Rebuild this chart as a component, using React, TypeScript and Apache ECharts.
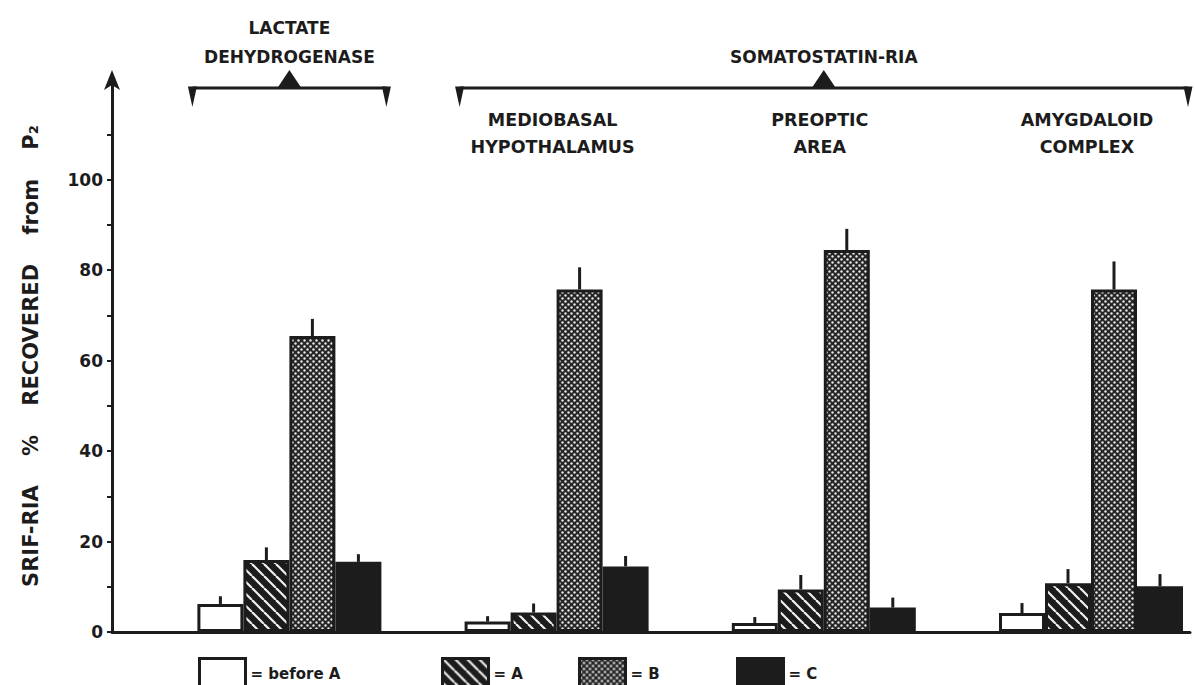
import React, { useEffect, useRef } from "react";
import * as echarts from "echarts";

// ---------- data ----------
const categories = [
  "Lactate dehydrogenase",
  "Mediobasal hypothalamus",
  "Preoptic area",
  "Amygdaloid complex",
];
const regionLabels = ["", "MEDIOBASAL\nHYPOTHALAMUS", "PREOPTIC\nAREA", "AMYGDALOID\nCOMPLEX"];
const bracketTitles = ["LACTATE\nDEHYDROGENASE", "SOMATOSTATIN-RIA"];
const bracketFrom = [0, 1];
const bracketTo = [0, 3];

const seriesNames = ["before A", "A", "B", "C"];
const beforeA = [6.2, 2.3, 2.0, 4.2];
const beforeAErr = [1.7, 1.2, 1.3, 2.2];
const valuesA = [15.9, 4.3, 9.4, 10.8];
const valuesAErr = [2.8, 2.0, 3.2, 3.1];
const valuesB = [65.4, 75.7, 84.4, 75.7];
const valuesBErr = [3.8, 4.9, 4.7, 6.2];
const valuesC = [15.5, 14.5, 5.4, 10.1];
const valuesCErr = [1.7, 2.3, 2.2, 2.7];

const yTickValues = [0, 10, 20, 30, 40, 50, 60, 70, 80, 90, 100, 110];
const yLabelValues = [0, 20, 40, 60, 80, 100];
const yAxisTitle = "SRIF-RIA    %    RECOVERED    from    P\u2082";

// ---------- layout / style ----------
const INK = "#1c1c1c";
const FONT = '"DejaVu Sans", sans-serif';
const BAR_W = 46;
const GRID_TOP = 80;
const GRID_BOTTOM = 53;
const LEGEND_LEFT = [198, 441, 578, 736];

function makeHatch(): HTMLCanvasElement {
  const s = 12;
  const c = document.createElement("canvas");
  c.width = s;
  c.height = s;
  const ctx = c.getContext("2d")!;
  ctx.fillStyle = INK;
  ctx.fillRect(0, 0, s, s);
  ctx.strokeStyle = "#f0f0f0";
  ctx.lineWidth = 2.2;
  for (const k of [-1, 0, 1]) {
    ctx.beginPath();
    ctx.moveTo(k * s, 0);
    ctx.lineTo(k * s + s, s);
    ctx.stroke();
  }
  return c;
}

function makeDots(): HTMLCanvasElement {
  const s = 6;
  const c = document.createElement("canvas");
  c.width = s;
  c.height = s;
  const ctx = c.getContext("2d")!;
  ctx.fillStyle = "#262626";
  ctx.fillRect(0, 0, s, s);
  ctx.fillStyle = "#e6e6e6";
  for (const [x, y] of [
    [1.5, 1.5],
    [4.5, 4.5],
  ]) {
    ctx.beginPath();
    ctx.arc(x, y, 1.2, 0, Math.PI * 2);
    ctx.fill();
  }
  return c;
}

export default function App() {
  const ref = useRef<HTMLDivElement>(null);

  useEffect(() => {
    if (!ref.current) return;
    const chart = echarts.init(ref.current, null, { renderer: "svg" });

    const fills: any[] = [
      "#ffffff",
      { image: makeHatch(), repeat: "repeat" },
      { image: makeDots(), repeat: "repeat" },
      INK,
    ];
    const vals = [beforeA, valuesA, valuesB, valuesC];
    const errs = [beforeAErr, valuesAErr, valuesBErr, valuesCErr];

    const barSeries = seriesNames.map((name, k) => ({
      type: "bar",
      name,
      xAxisIndex: 0,
      yAxisIndex: 0,
      data: vals[k],
      barWidth: BAR_W,
      barGap: "0%",
      clip: false,
      itemStyle: { color: fills[k], borderColor: INK, borderWidth: 3 },
      z: 2,
    }));

    const errSeries = seriesNames.map((_, k) => ({
      type: "custom",
      xAxisIndex: 0,
      yAxisIndex: 0,
      z: 3,
      clip: false,
      data: vals[k].map((v, i) => [i, v, errs[k][i]]),
      encode: { x: 0, y: 1 },
      renderItem: (params: any, api: any) => {
        const i = api.value(0);
        const v = api.value(1);
        const e = api.value(2);
        const base = api.coord([i, v]);
        const top = api.coord([i, v + e]);
        const x = base[0] + (k - 1.5) * BAR_W;
        return {
          type: "line",
          shape: { x1: x, y1: base[1], x2: x, y2: top[1] },
          style: { stroke: INK, lineWidth: 3 },
        };
      },
    }));

    const legends = seriesNames.map((name, k) => ({
      data: [name],
      left: LEGEND_LEFT[k],
      top: 657,
      padding: 0,
      itemWidth: 46,
      itemHeight: 30,
      itemGap: 0,
      icon: "rect",
      selectedMode: false,
      formatter: "= {name}",
      itemStyle: { borderColor: INK, borderWidth: 3 },
      textStyle: { color: INK, fontSize: 15, fontWeight: "bold", fontFamily: FONT },
    }));

    const option: any = {
      animation: false,
      backgroundColor: "#ffffff",
      grid: [
        // category points (group centres) sit on the grid edges (boundaryGap false)
        { left: 289.4, width: 801.6, top: GRID_TOP, bottom: GRID_BOTTOM },
        { left: 112, right: 5, top: GRID_TOP, bottom: GRID_BOTTOM },
      ],
      xAxis: [
        { gridIndex: 0, type: "category", boundaryGap: false, data: categories, show: false },
        {
          gridIndex: 1,
          type: "value",
          min: 0,
          max: 1,
          axisLine: { show: true, lineStyle: { color: INK, width: 3 } },
          axisTick: { show: false },
          axisLabel: { show: false },
          splitLine: { show: false },
        },
      ],
      yAxis: [
        { gridIndex: 0, type: "value", min: 0, max: 122, show: false },
        {
          gridIndex: 1,
          type: "value",
          min: 0,
          max: 122,
          axisLine: {
            show: true,
            symbol: ["none", "arrow"],
            symbolSize: [12, 20],
            symbolOffset: [0, 10],
            lineStyle: { color: INK, width: 3 },
          },
          axisTick: {
            show: true,
            length: 5,
            customValues: yTickValues,
            lineStyle: { color: INK, width: 2 },
          },
          axisLabel: {
            customValues: yLabelValues,
            margin: 9,
            color: INK,
            fontSize: 17,
            fontWeight: "bold",
            fontFamily: FONT,
          },
          splitLine: { show: false },
          name: yAxisTitle,
          nameLocation: "middle",
          nameRotate: 90,
          nameGap: 71,
          nameTextStyle: { color: INK, fontSize: 21, fontWeight: "bold", fontFamily: FONT },
        },
      ],
      legend: legends,
      series: [...barSeries, ...errSeries],
    };
    chart.setOption(option);

    // annotations above the bars, positioned through the category axis
    const px = (i: number) => chart.convertToPixel({ xAxisIndex: 0 }, i) as number;
    const half = 2 * BAR_W + 5;
    const graphic: any[] = [];
    bracketTitles.forEach((title, b) => {
      const x0 = px(bracketFrom[b]) - half;
      const x1 = px(bracketTo[b]) + half;
      const mid = (x0 + x1) / 2;
      const yl = 88;
      graphic.push({
        type: "line",
        shape: { x1: x0, y1: yl, x2: x1, y2: yl },
        style: { stroke: INK, lineWidth: 3 },
      });
      for (const xe of [x0, x1]) {
        graphic.push({
          type: "polygon",
          shape: { points: [[xe - 4.5, yl - 1.5], [xe + 4.5, yl - 1.5], [xe, yl + 19]] },
          style: { fill: INK },
        });
      }
      graphic.push({
        type: "polygon",
        shape: { points: [[mid - 12, yl], [mid + 12, yl], [mid, yl - 18]] },
        style: { fill: INK },
      });
      graphic.push({
        type: "text",
        style: {
          text: title,
          x: mid,
          y: 71.5,
          align: "center",
          verticalAlign: "bottom",
          lineHeight: 29,
          font: `bold 17px ${FONT}`,
          fill: INK,
        },
      });
      if (bracketTo[b] > bracketFrom[b]) {
        for (let i = bracketFrom[b]; i <= bracketTo[b]; i++) {
          graphic.push({
            type: "text",
            style: {
              text: regionLabels[i],
              x: px(i) - 4,
              y: 106.5,
              align: "center",
              verticalAlign: "top",
              lineHeight: 27,
              font: `bold 17.5px ${FONT}`,
              fill: INK,
            },
          });
        }
      }
    });
    chart.setOption({ graphic });

    return () => chart.dispose();
  }, []);

  return (
    <div
      ref={ref}
      style={{ position: "fixed", left: 0, top: 0, width: 1195, height: 685, background: "#fff" }}
    />
  );
}
